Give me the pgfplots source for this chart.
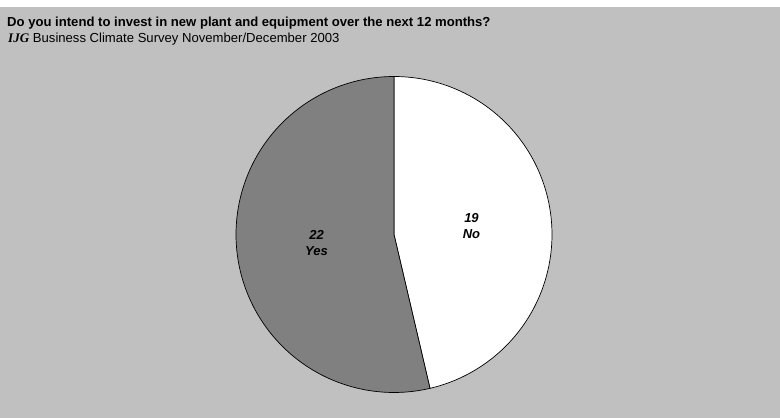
\documentclass[border=0pt]{standalone}
\usepackage{pgfplots}
\pgfplotsset{compat=1.18}
\usepackage{fontspec}
\setmainfont{Liberation Sans}
\newfontfamily\logofont{Liberation Serif}
\definecolor{chartbg}{RGB}{192,192,192}
\definecolor{yesgrey}{RGB}{128,128,128}

% survey answers
\def\nNo{19}
\def\nYes{22}

\begin{document}
\begin{tikzpicture}
\pgfmathsetmacro{\total}{\nNo+\nYes}
\pgfmathsetmacro{\aNo}{90-360*\nNo/\total}
\pgfmathsetmacro{\aYes}{\aNo-360*\nYes/\total}
\pgfmathsetmacro{\mNo}{(90+\aNo)/2}
\pgfmathsetmacro{\mYes}{(\aNo+\aYes)/2}
\def\cx{394}
\def\cy{183.5}
\def\rr{158}
\begin{axis}[
  scale only axis, width=780bp, height=418bp,
  xmin=0, xmax=780, ymin=0, ymax=418,
  axis lines=none, clip=false,
]
\fill[white] (axis cs:0,0) rectangle (axis cs:780,418);
\fill[chartbg] (axis cs:0,0) rectangle (axis cs:780,411);
% slices, clockwise from twelve o'clock
\addplot[draw=black, line width=0.7pt, fill=white, domain=\aNo:90, samples=150]
  ({\cx+\rr*cos(x)}, {\cy+\rr*sin(x)}) -- (axis cs:\cx,\cy) -- cycle;
\addplot[draw=black, line width=0.7pt, fill=yesgrey, domain=\aYes:\aNo, samples=150]
  ({\cx+\rr*cos(x)}, {\cy+\rr*sin(x)}) -- (axis cs:\cx,\cy) -- cycle;
% slice labels
\node[align=center, inner sep=0, font=\fontsize{13bp}{16bp}\selectfont\bfseries\itshape]
  at (axis cs:{\cx+78*cos(\mNo)},{\cy+78*sin(\mNo)}) {\nNo\\No};
\node[align=center, inner sep=0, font=\fontsize{13bp}{16bp}\selectfont\bfseries\itshape]
  at (axis cs:{\cx+78*cos(\mYes)},{\cy+78*sin(\mYes)}) {\nYes\\Yes};
% titles
\node[anchor=base west, inner sep=0, font=\fontsize{13.1bp}{15bp}\selectfont\bfseries]
  at (axis cs:7,391) {Do you intend to invest in new plant and equipment over the next 12 months?};
\node[anchor=base west, inner sep=0, font=\fontsize{13.1bp}{15bp}\selectfont]
  at (axis cs:8,375) {{\logofont\bfseries\itshape IJG} Business Climate Survey November/December 2003};
\end{axis}
\pgfresetboundingbox
\path (0,0) rectangle (780bp,418bp);
\end{tikzpicture}
\end{document}
